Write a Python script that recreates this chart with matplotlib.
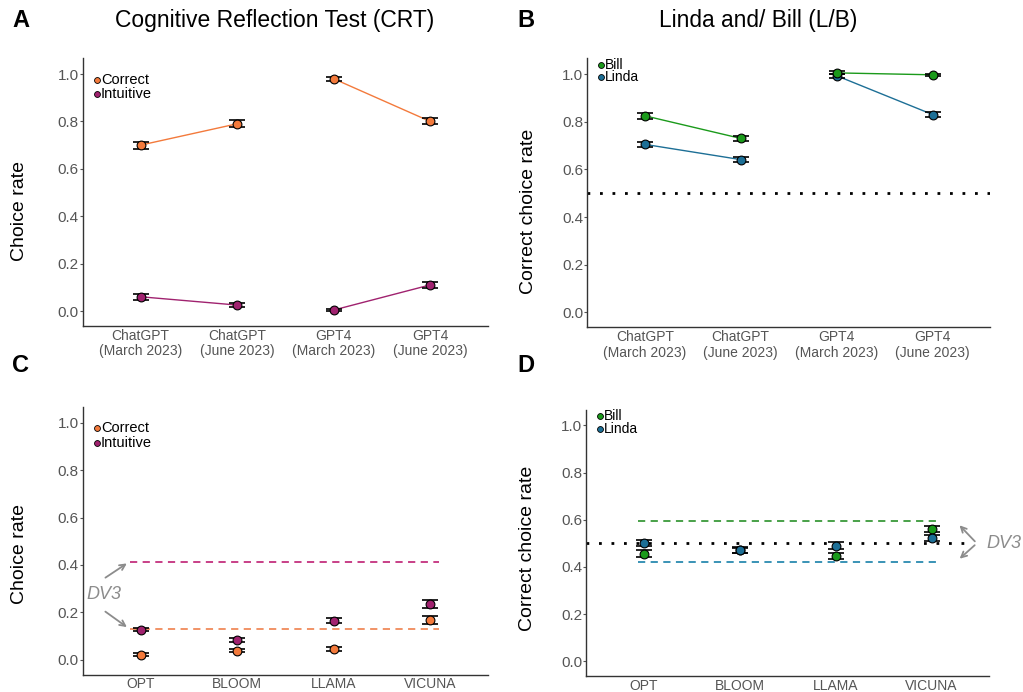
import numpy as np
import matplotlib.pyplot as plt

# ---- data ----
gpt_labels = ['ChatGPT\n(March 2023)', 'ChatGPT\n(June 2023)',
              'GPT4\n(March 2023)', 'GPT4\n(June 2023)']
open_labels = ['OPT', 'BLOOM', 'LLAMA', 'VICUNA']

crt_correct = [0.70, 0.79, 0.98, 0.80]
crt_correct_err = [0.015, 0.014, 0.008, 0.013]
crt_intuitive = [0.06, 0.025, 0.004, 0.11]
crt_intuitive_err = [0.012, 0.008, 0.004, 0.013]

lb_bill = [0.825, 0.73, 1.005, 0.997]
lb_bill_err = [0.012, 0.012, 0.006, 0.005]
lb_linda = [0.705, 0.641, 0.993, 0.83]
lb_linda_err = [0.012, 0.012, 0.008, 0.012]

open_crt_correct = [0.021, 0.038, 0.046, 0.169]
open_crt_correct_err = [0.006, 0.006, 0.007, 0.016]
open_crt_intuitive = [0.127, 0.084, 0.165, 0.236]
open_crt_intuitive_err = [0.007, 0.007, 0.010, 0.016]
dv3_crt_intuitive = 0.413
dv3_crt_correct = 0.131

open_lb_bill = [0.456, 0.473, 0.447, 0.561]
open_lb_bill_err = [0.014, 0.012, 0.014, 0.014]
open_lb_linda = [0.502, 0.470, 0.490, 0.523]
open_lb_linda_err = [0.014, 0.012, 0.014, 0.014]
dv3_bill = 0.595
dv3_linda = 0.422

C_CORRECT = '#f37a3c'
C_INTUIT = '#a0226f'
C_BILL = '#1b9a1b'
C_LINDA = '#1d6f96'

plt.rcParams['font.family'] = ['Liberation Sans', 'DejaVu Sans']

fig = plt.figure(figsize=(10.23, 6.92), dpi=100)
axA = fig.add_axes([0.081, 0.529, 0.396, 0.387])
axB = fig.add_axes([0.574, 0.527, 0.394, 0.389])
axC = fig.add_axes([0.081, 0.025, 0.396, 0.387])
axD = fig.add_axes([0.573, 0.023, 0.394, 0.385])


def style(ax, labels, ylabel, lx, ly):
    x = np.arange(len(labels))
    ax.set_xlim(-0.6, 3.6)
    ax.set_ylim(-0.063, 1.067)
    ax.set_yticks([0, 0.2, 0.4, 0.6, 0.8, 1.0])
    ax.set_yticklabels(['0.0', '0.2', '0.4', '0.6', '0.8', '1.0'])
    ax.set_xticks(x)
    ax.set_xticklabels(labels, linespacing=1.15)
    for s in ['top', 'right']:
        ax.spines[s].set_visible(False)
    for s in ['left', 'bottom']:
        ax.spines[s].set_color('#333333')
        ax.spines[s].set_linewidth(1.0)
    ax.tick_params(colors='#555555', labelsize=11, length=2, width=0.8, pad=1)
    ax.tick_params(axis='x', length=0, pad=2, labelsize=10)
    ax.set_ylabel(ylabel, fontsize=14, color='black')
    ax.yaxis.set_label_coords(lx, ly)


def series(ax, y, err, color, groups=None):
    x = np.arange(len(y))
    if groups:
        for g in groups:
            ax.plot(x[g], np.asarray(y)[g], color=color, lw=1.0, zorder=2)
    ax.errorbar(x, y, yerr=err, fmt='none', ecolor='black', elinewidth=1.0,
                capsize=5.5, capthick=1.2, zorder=3)
    ax.scatter(x, y, s=40, facecolor=color, edgecolor='black', linewidths=0.8, zorder=4)


def legend(ax, names, colors, y0, dy, fs):
    for i, (n, c) in enumerate(zip(names, colors)):
        yy = y0 - i * dy
        ax.scatter([0.035], [yy], s=18, facecolor=c, edgecolor='black', linewidths=0.6,
                   transform=ax.transAxes, clip_on=False, zorder=5)
        ax.text(0.045, yy, n, transform=ax.transAxes, fontsize=fs, va='center', ha='left')


pairs = [slice(0, 2), slice(2, 4)]

# A
style(axA, gpt_labels, 'Choice rate', -0.136, 0.43)
series(axA, crt_correct, crt_correct_err, C_CORRECT, pairs)
series(axA, crt_intuitive, crt_intuitive_err, C_INTUIT, pairs)
legend(axA, ['Correct', 'Intuitive'], [C_CORRECT, C_INTUIT], 0.92, 0.055, 10.5)

# B
style(axB, gpt_labels, 'Correct choice rate', -0.124, 0.43)
axB.axhline(0.5, color='black', ls=(0, (1, 3.5)), lw=2.0, zorder=1)
series(axB, lb_linda, lb_linda_err, C_LINDA, pairs)
series(axB, lb_bill, lb_bill_err, C_BILL, pairs)
legend(axB, ['Bill', 'Linda'], [C_BILL, C_LINDA], 0.975, 0.046, 10)

# C
style(axC, open_labels, 'Choice rate', -0.136, 0.45)
axC.hlines(dv3_crt_intuitive, -0.115, 3.09, colors='#c4307e', ls=(0, (4, 3)), lw=1.3, zorder=1)
axC.hlines(dv3_crt_correct, -0.115, 3.09, colors='#f08a5a', ls=(0, (4, 3)), lw=1.3, zorder=1)
series(axC, open_crt_correct, open_crt_correct_err, C_CORRECT)
series(axC, open_crt_intuitive, open_crt_intuitive_err, C_INTUIT)
legend(axC, ['Correct', 'Intuitive'], [C_CORRECT, C_INTUIT], 0.92, 0.055, 10.5)
axC.text(-0.56, 0.274, 'DV3', fontsize=13, style='italic', color='#8c8c8c', ha='left', va='center')
axC.annotate('', xy=(-0.12, dv3_crt_intuitive), xytext=(-0.39, 0.34),
             arrowprops=dict(arrowstyle='->', color='#8c8c8c', lw=1.3))
axC.annotate('', xy=(-0.12, dv3_crt_correct), xytext=(-0.39, 0.21),
             arrowprops=dict(arrowstyle='->', color='#8c8c8c', lw=1.3))

# D
style(axD, open_labels, 'Correct choice rate', -0.124, 0.48)
axD.axhline(0.5, color='black', ls=(0, (1, 3.5)), lw=2.0, xmax=0.95, zorder=1)
axD.hlines(dv3_bill, -0.06, 3.1, colors='#3a9a3a', ls=(0, (4, 3)), lw=1.3, zorder=1)
axD.hlines(dv3_linda, -0.06, 3.1, colors='#2a8ab0', ls=(0, (4, 3)), lw=1.3, zorder=1)
series(axD, open_lb_bill, open_lb_bill_err, C_BILL)
series(axD, open_lb_linda, open_lb_linda_err, C_LINDA)
legend(axD, ['Bill', 'Linda'], [C_BILL, C_LINDA], 0.975, 0.046, 10)
axD.text(3.57, 0.5, 'DV3', fontsize=13, style='italic', color='#8c8c8c', ha='left', va='center',
         clip_on=False)
axD.annotate('', xy=(3.27, dv3_bill - 0.01), xytext=(3.47, 0.5),
             arrowprops=dict(arrowstyle='->', color='#8c8c8c', lw=1.3), annotation_clip=False)
axD.annotate('', xy=(3.27, dv3_linda + 0.005), xytext=(3.47, 0.5),
             arrowprops=dict(arrowstyle='->', color='#8c8c8c', lw=1.3), annotation_clip=False)

# titles and panel letters
fig.text(0.268, 0.97, 'Cognitive Reflection Test (CRT)', fontsize=16.5, ha='center', va='center')
fig.text(0.741, 0.97, 'Linda and/ Bill (L/B)', fontsize=16.4, ha='center', va='center')
for lab, x, y in [('A', 0.012, 0.97), ('B', 0.506, 0.97), ('C', 0.012, 0.472), ('D', 0.506, 0.472)]:
    fig.text(x, y, lab, fontsize=17, fontweight='bold', ha='left', va='center')

fig.savefig('out.png', dpi=100)
